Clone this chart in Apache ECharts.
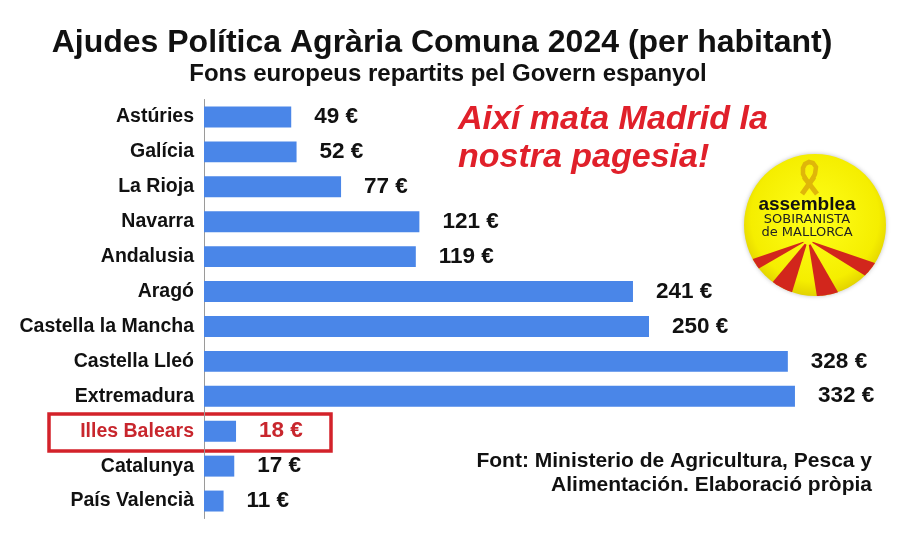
<!DOCTYPE html>
<html>
<head>
<meta charset="utf-8">
<script src="https://cdn.jsdelivr.net/npm/echarts@6/dist/echarts.min.js"></script>
<style>
  html, body { margin: 0; padding: 0; background: #fff; }
  #main { width: 907px; height: 534px; }
</style>
</head>
<body>
<div id="main"></div>
<script>
// dades (euros per habitant)
const regions = ['Astúries', 'Galícia', 'La Rioja', 'Navarra', 'Andalusia', 'Aragó',
  'Castella la Mancha', 'Castella Lleó', 'Extremadura', 'Illes Balears', 'Catalunya', 'País Valencià']
const values = [49, 52, 77, 121, 119, 241, 250, 328, 332, 18, 17, 11]
const highlight = 'Illes Balears'

const FONT = '"Liberation Sans", Arial, sans-serif'
const RED = '#c8262d'

// logo: ratlles vermelles (angles en graus, des del punt d'origen)
const logo = { cx: 815, cy: 225, r: 71, ox: 808, oy: 240 }
const stripes = [[150, 161], [107, 130], [60, 81], [19, 32]]

function rayHit(a) {
  // intersecció del raig des de l'origen amb el cercle
  const dx = Math.cos(a), dy = Math.sin(a)
  const fx = logo.ox - logo.cx, fy = logo.oy - logo.cy
  const b = fx * dx + fy * dy
  const c = fx * fx + fy * fy - logo.r * logo.r
  const t = -b + Math.sqrt(b * b - c)
  return [logo.ox + dx * t, logo.oy + dy * t]
}
function stripePoly(a0, a1) {
  const pts = []
  const s = 5
  const r0 = a0 * Math.PI / 180, r1 = a1 * Math.PI / 180
  pts.push([logo.ox + Math.cos(r0) * s, logo.oy + Math.sin(r0) * s])
  const p0 = rayHit(r0), p1 = rayHit(r1)
  const t0 = Math.atan2(p0[1] - logo.cy, p0[0] - logo.cx)
  let d = Math.atan2(p1[1] - logo.cy, p1[0] - logo.cx) - t0
  while (d > Math.PI) d -= 2 * Math.PI
  while (d < -Math.PI) d += 2 * Math.PI
  for (let i = 0; i <= 12; i++) {
    const t = t0 + d * i / 12
    pts.push([logo.cx + Math.cos(t) * logo.r, logo.cy + Math.sin(t) * logo.r])
  }
  pts.push([logo.ox + Math.cos(r1) * s, logo.oy + Math.sin(r1) * s])
  return pts
}

const RIBBON = '#dfb60a'

const chart = echarts.init(document.getElementById('main'))
chart.setOption({
  backgroundColor: '#fff',
  animation: false,
  title: [
    {
      text: 'Ajudes Política Agrària Comuna 2024 (per habitant)',
      left: 437, top: 22, textAlign: 'center',
      textStyle: { fontFamily: FONT, fontSize: 32, fontWeight: 'bold', color: '#111' },
    },
    {
      text: 'Fons europeus repartits pel Govern espanyol',
      left: 443, top: 57, textAlign: 'center',
      textStyle: { fontFamily: FONT, fontSize: 24, fontWeight: 'bold', color: '#111' },
    },
    {
      text: 'Així mata Madrid la\nnostra pagesia!',
      left: 453, top: 96,
      textStyle: { fontFamily: FONT, fontSize: 34, fontWeight: 'bold', fontStyle: 'italic',
        color: '#e0202a', lineHeight: 38 },
    },
    {
      text: 'Font: Ministerio de Agricultura, Pesca y\nAlimentación. Elaboració pròpia',
      left: 867, top: 444, textAlign: 'right',
      textStyle: { fontFamily: FONT, fontSize: 21, fontWeight: 'bold', color: '#111', lineHeight: 24, align: 'right' },
    },
  ],
  grid: { left: 204, top: 99.5, width: 623, height: 419 },
  xAxis: { type: 'value', min: 0, max: 350, show: false },
  yAxis: {
    type: 'category',
    data: regions,
    inverse: true,
    axisLine: { show: true, lineStyle: { color: '#9a9a9a', width: 1 } },
    axisTick: { show: false },
    axisLabel: {
      margin: 10,
      fontFamily: FONT, fontSize: 19.5, fontWeight: 'bold',
      color: (v) => (v === highlight ? RED : '#111'),
    },
  },
  series: [{
    type: 'bar',
    barCategoryGap: '40%',
    itemStyle: { color: '#4a86e8' },
    label: {
      show: true, position: 'right', distance: 23,
      formatter: '{c} €',
      fontFamily: FONT, fontSize: 22.5, fontWeight: 'bold', color: '#111',
    },
    data: values.map((v, i) => (regions[i] === highlight
      ? { value: v, label: { color: RED } }
      : v)),
  }],
  graphic: [
    {
      type: 'rect',
      shape: { x: 49, y: 414, width: 282, height: 37 },
      style: { fill: 'none', stroke: '#d3222a', lineWidth: 3.5 },
    },
    {
      type: 'group',
      children: [
        {
          type: 'circle',
          shape: { cx: logo.cx, cy: logo.cy, r: logo.r },
          style: {
            fill: {
              type: 'radial', x: 0.5, y: 0.45, r: 0.6,
              colorStops: [
                { offset: 0, color: '#ffff1a' },
                { offset: 0.75, color: '#f5ee00' },
                { offset: 1, color: '#d9c400' },
              ],
            },
            shadowBlur: 4, shadowColor: 'rgba(0,0,0,0.25)',
          },
        },
        ...stripes.map(([a0, a1]) => ({
          type: 'polygon',
          shape: { points: stripePoly(a0, a1) },
          style: { fill: '#d2261c' },
        })),
        // llaç groc
        {
          type: 'polyline',
          shape: { points: [[806, 180], [803, 174], [803, 168], [805, 164], [809, 162], [813, 163], [816, 167], [815, 174], [812, 180]] },
          style: { stroke: RIBBON, lineWidth: 4.5, fill: 'none' },
        },
        {
          type: 'line',
          shape: { x1: 814, y1: 177, x2: 802, y2: 194 },
          style: { stroke: RIBBON, lineWidth: 5 },
        },
        {
          type: 'line',
          shape: { x1: 804, y1: 177, x2: 817, y2: 194 },
          style: { stroke: RIBBON, lineWidth: 5 },
        },
        {
          type: 'text', x: 807, y: 205,
          style: { text: 'assemblea', fontFamily: FONT, fontSize: 19, fontWeight: 'bold',
            fill: '#111', align: 'center', verticalAlign: 'middle' },
        },
        {
          type: 'text', x: 807, y: 220,
          style: { text: 'SOBIRANISTA', fontFamily: '"DejaVu Sans", sans-serif', fontSize: 13,
            fill: '#222', align: 'center', verticalAlign: 'middle' },
        },
        {
          type: 'text', x: 807, y: 233,
          style: { text: 'de MALLORCA', fontFamily: '"DejaVu Sans", sans-serif', fontSize: 13,
            fill: '#222', align: 'center', verticalAlign: 'middle' },
        },
      ],
    },
  ],
})
</script>
</body>
</html>
